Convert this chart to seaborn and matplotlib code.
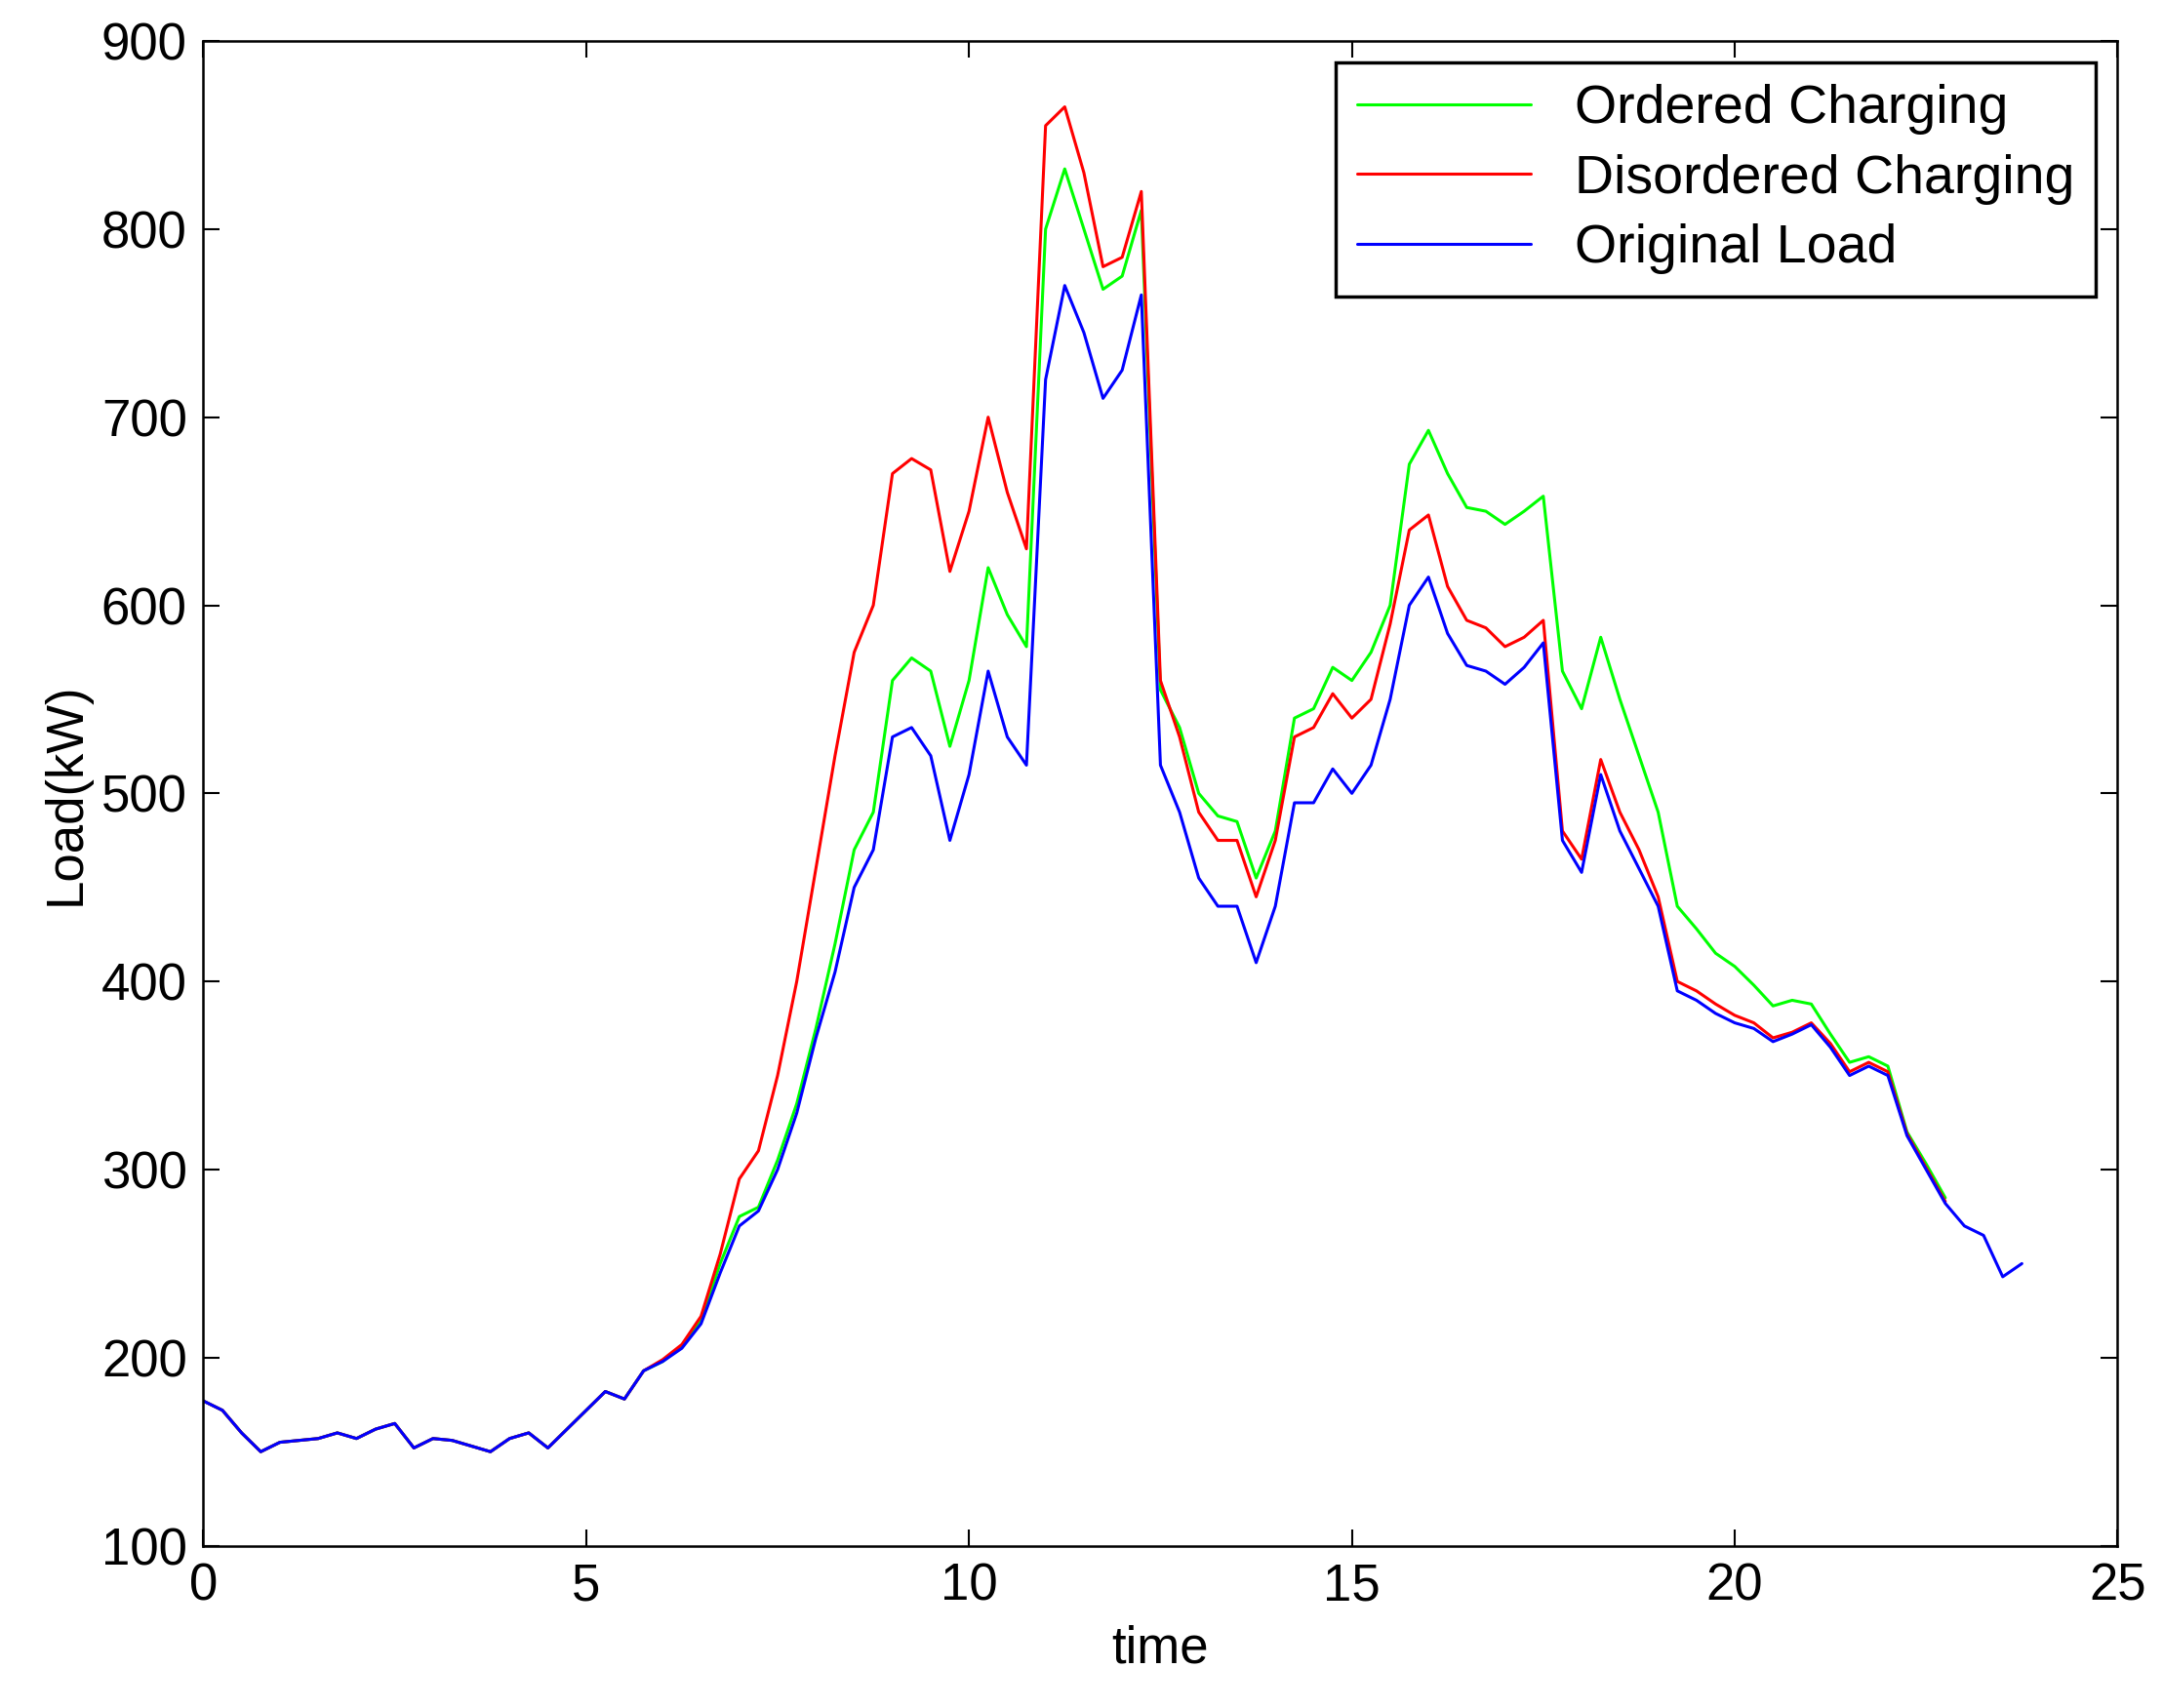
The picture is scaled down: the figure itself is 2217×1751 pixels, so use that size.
import numpy as np
import pandas as pd
import matplotlib
matplotlib.use("Agg")
import matplotlib.pyplot as plt
import seaborn as sns

time = np.arange(0, 24, 0.25)
original = [177,172,160,150,155,156,157,160,157,162,165,152,157,156,153,150,157,160,152,162,
            172,182,178,193,198,205,218,245,270,278,300,330,370,405,450,470,530,535,520,475,
            510,565,530,515,720,770,745,710,725,765,515,490,455,440,440,410,440,495,495,513,
            500,515,550,600,615,585,568,565,558,567,580,475,458,510,480,460,440,395,390,383,
            378,375,368,372,377,365,350,355,350,318,300,282,270,265,243,250]
disordered = original[:24] + [199,207,222,255,295,310,350,400,460,520,575,600,670,678,672,618,
            650,700,660,630,855,865,830,780,785,820,560,530,490,475,475,445,475,530,535,553,
            540,550,590,640,648,610,592,588,578,583,592,480,465,518,490,470,445,400,395,388,
            382,378,370,373,378,367,352,357,352,319,301,283] + [np.nan]*4
ordered = original[:24] + [198,206,220,250,275,280,305,335,375,420,470,490,560,572,565,525,
            560,620,595,578,800,832,800,768,775,810,555,535,500,488,485,455,480,540,545,567,
            560,575,600,675,693,670,652,650,643,650,658,565,545,583,550,520,490,440,428,415,
            408,398,387,390,388,372,357,360,355,320,303,285] + [np.nan]*4

df = pd.DataFrame({"time": time, "Ordered Charging": ordered,
                   "Disordered Charging": disordered, "Original Load": original})

sns.set_style("ticks")
plt.rcParams['font.family'] = ['Liberation Sans', 'DejaVu Sans']
plt.rcParams['text.color'] = 'black'
fig = plt.figure(figsize=(22.17, 17.51), dpi=100)
ax = fig.add_axes([0.094, 0.095, 0.885, 0.881])
colors = {"Ordered Charging": "#00ff00", "Disordered Charging": "#ff0000", "Original Load": "#0000ff"}
for name in ["Ordered Charging", "Disordered Charging", "Original Load"]:
    sns.lineplot(data=df, x="time", y=name, ax=ax, color=colors[name], lw=2.2, label=name)
ax.set_xlim(0, 25)
ax.set_ylim(100, 900)
ax.set_xticks(range(0, 26, 5))
ax.set_yticks(range(100, 901, 100))
ax.tick_params(labelsize=38, direction="in", length=12, width=1.5, top=True, right=True,
               colors="black", pad=12)
for s in ax.spines.values():
    s.set_linewidth(1.8)
    s.set_color("black")
ax.set_xlabel("time", fontsize=38, color="black", labelpad=10)
ax.set_ylabel("Load(kW)", fontsize=38, color="black", labelpad=8)
leg = ax.legend(loc="upper right", fontsize=40, fancybox=False, framealpha=1,
                edgecolor="black", handlelength=3.2, borderaxespad=0.4,
                labelspacing=0.35, borderpad=0.4)
leg.get_frame().set_linewidth(2.5)
fig.savefig("out.png", dpi=100)
